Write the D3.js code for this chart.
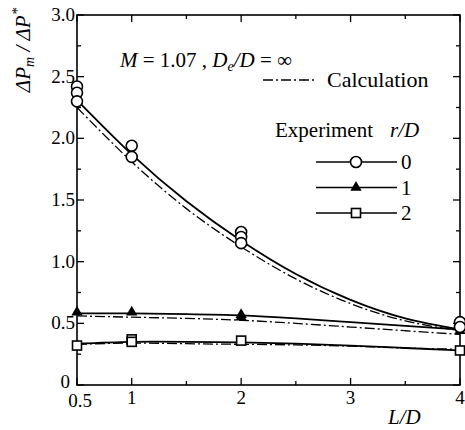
<!DOCTYPE html>
<html><head><meta charset="utf-8">
<script src="https://cdn.jsdelivr.net/npm/d3@7"></script>
<style>body{margin:0;background:#fff;font-family:"Liberation Serif",serif}svg{display:block}</style>
</head><body><svg id="c" width="465" height="430" style="font-family:Liberation Serif"></svg>
<script>
// Experiment data (L/D, ΔPm/ΔP*)
const expR0 = [[0.5,2.42],[0.5,2.37],[0.5,2.30],[1,1.94],[1,1.85],[2,1.24],[2,1.20],[2,1.15],[4,0.51],[4,0.47]];
const expR1 = [[0.5,0.59],[1,0.59],[2,0.57],[2,0.55],[4,0.44]];
const expR2 = [[0.5,0.32],[1,0.37],[1,0.35],[2,0.36],[4,0.28]];
// Fitted curves (solid) and calculation (dash-dot)
const fitX   = [0.5, 1, 1.5, 2, 2.5, 3, 3.5, 4];
const fitR0  = [2.31, 1.87, 1.49, 1.17, 0.90, 0.69, 0.54, 0.45];
const calcR0 = [2.25, 1.81, 1.43, 1.12, 0.86, 0.66, 0.52, 0.44];
const fitR1  = [0.58, 0.58, 0.575, 0.565, 0.54, 0.51, 0.48, 0.45];
const calcR1 = [0.56, 0.55, 0.54, 0.525, 0.50, 0.47, 0.44, 0.41];
const fitR2  = [0.335, 0.35, 0.35, 0.345, 0.335, 0.32, 0.30, 0.28];
const calcR2 = [0.33, 0.34, 0.335, 0.33, 0.325, 0.315, 0.30, 0.29];
const xTicks = [0.5, 1, 2, 3, 4];
const xMinor = [1.5, 2.5, 3.5];
const yTicks = [0, 0.5, 1.0, 1.5, 2.0, 2.5, 3.0];
const yMinor = [0.25, 0.75, 1.25, 1.75, 2.25, 2.75];

const svg = d3.select("#c");
const L = 77, R = 460, T = 15, B = 385;
const x = d3.scaleLinear().domain([0.5, 4]).range([L, R]);
const y = d3.scaleLinear().domain([0, 3]).range([B, T]);
function txt(px, py, size, italic) {
  return svg.append("text").attr("x", px).attr("y", py)
    .attr("style", `font-family:Liberation Serif;font-size:${size}px;font-style:${italic ? "italic" : "normal"}`);
}

// frame
svg.append("rect").attr("x", L).attr("y", T).attr("width", R - L).attr("height", B - T)
  .attr("fill", "none").attr("stroke", "#000").attr("stroke-width", 1.6);

// ticks (inward, all sides)
const tk = svg.append("g").attr("stroke", "#000").attr("stroke-width", 1.3);
xTicks.concat(xMinor).forEach(v => {
  const len = xMinor.includes(v) ? 4 : 7;
  tk.append("line").attr("x1", x(v)).attr("x2", x(v)).attr("y1", B).attr("y2", B - len);
  tk.append("line").attr("x1", x(v)).attr("x2", x(v)).attr("y1", T).attr("y2", T + len);
});
yTicks.concat(yMinor).forEach(v => {
  const len = yMinor.includes(v) ? 4 : 7;
  tk.append("line").attr("x1", L).attr("x2", L + len).attr("y1", y(v)).attr("y2", y(v));
  tk.append("line").attr("x1", R).attr("x2", R - len).attr("y1", y(v)).attr("y2", y(v));
});

// tick labels
xTicks.forEach(v => {
  txt(x(v) + (v === 0.5 ? 3 : 0), B + (v === 0.5 ? 22 : 19), 19)
    .attr("text-anchor", "middle").text(v === 0.5 ? "0.5" : d3.format("d")(v));
});
yTicks.forEach(v => {
  txt(v === 0 ? L - 7 : L - 2, y(v) + (v === 0 ? 3 : 6), 19)
    .attr("text-anchor", "end").text(v === 0 ? "0" : d3.format(".1f")(v));
});

// axis titles
txt(388, 424, 21, true).text("L/D");
const yl = txt(0, 0, 21, true).attr("transform", "translate(30,50) rotate(-90)").attr("text-anchor", "middle");
yl.append("tspan").text("ΔP");
yl.append("tspan").attr("font-size", 14).attr("dy", 4).text("m");
yl.append("tspan").attr("dy", -4).text(" / ΔP");
yl.append("tspan").attr("font-size", 15).attr("dy", -8).text("*");

// curves
const line = d3.line().x(d => x(d[0])).y(d => y(d[1])).curve(d3.curveNatural);
const g = svg.append("g").attr("fill", "none").attr("stroke", "#000");
[fitR0, fitR1, fitR2].forEach(s => {
  g.append("path").attr("d", line(fitX.map((v, i) => [v, s[i]]))).attr("stroke-width", 1.8);
});
[calcR0, calcR1, calcR2].forEach(s => {
  g.append("path").attr("d", line(fitX.map((v, i) => [v, s[i]]))).attr("stroke-width", 1.3)
    .attr("stroke-dasharray", "10,3,2,3");
});

// markers
function circle(sel, cx, cy) { sel.append("circle").attr("cx", cx).attr("cy", cy).attr("r", 5.5).attr("fill", "#fff").attr("stroke", "#000").attr("stroke-width", 1.6); }
function tri(sel, cx, cy) { sel.append("path").attr("d", d3.symbol(d3.symbolTriangle, 55)()).attr("transform", `translate(${cx},${cy})`).attr("fill", "#000"); }
function sq(sel, cx, cy) { sel.append("rect").attr("x", cx - 4.5).attr("y", cy - 4.5).attr("width", 9).attr("height", 9).attr("fill", "#fff").attr("stroke", "#000").attr("stroke-width", 1.6); }
const m = svg.append("g");
expR2.forEach(d => sq(m, x(d[0]), y(d[1])));
expR1.forEach(d => tri(m, x(d[0]), y(d[1])));
expR0.forEach(d => circle(m, x(d[0]), y(d[1])));

// annotation
const t1 = txt(120, 67, 21);
t1.append("tspan").attr("font-style", "italic").text("M");
t1.append("tspan").text("\u00a0= 1.07 , ");
t1.append("tspan").attr("font-style", "italic").text("D");
t1.append("tspan").attr("font-size", 14).attr("dy", 4).attr("font-style", "italic").text("e");
t1.append("tspan").attr("dy", -4).attr("font-style", "italic").text("/D");
t1.append("tspan").text("\u00a0= ∞");

// legend
svg.append("line").attr("x1", 263).attr("x2", 316).attr("y1", 80).attr("y2", 80).attr("stroke", "#000")
  .attr("stroke-width", 1.3).attr("stroke-dasharray", "10,3,2,3");
txt(327, 87, 22).text("Calculation");
txt(275, 137, 21).text("Experiment");
txt(390, 137, 21, true).text("r/D");
const legRows = [["0", circle], ["1", tri], ["2", sq]];
legRows.forEach((r, i) => {
  const yy = 162 + i * 25.5;
  svg.append("line").attr("x1", 316).attr("x2", 397).attr("y1", yy).attr("y2", yy).attr("stroke", "#000").attr("stroke-width", 1.5);
  r[1](svg, 356, yy);
  txt(401, yy + 7, 21).text(r[0]);
});
</script></body></html>
